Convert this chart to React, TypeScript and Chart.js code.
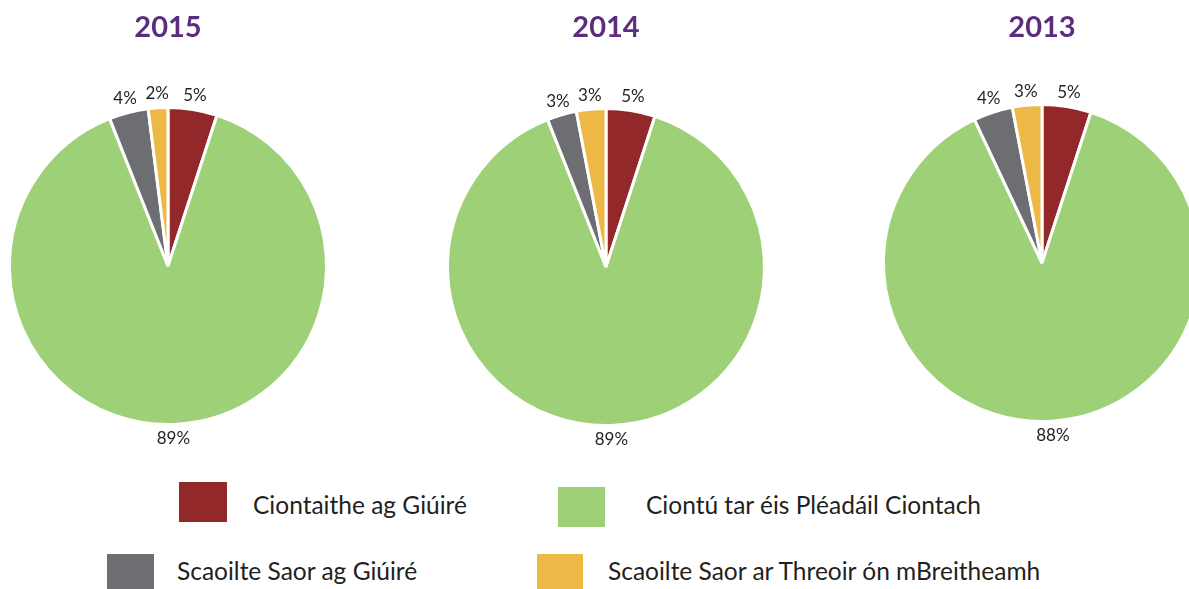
import React, { useEffect, useRef } from "react";
import { Chart, registerables } from "chart.js";

Chart.register(...registerables);

// ---- data ----
const categories = [
  "Ciontaithe ag Giúiré",
  "Ciontú tar éis Pléadáil Ciontach",
  "Scaoilte Saor ag Giúiré",
  "Scaoilte Saor ar Threoir ón mBreitheamh",
];
const years = ["2015", "2014", "2013"];
const values2015 = [5, 89, 4, 2];
const values2014 = [5, 89, 3, 3];
const values2013 = [5, 88, 4, 3];
const colors = ["#93282a", "#9dd077", "#6d6e71", "#ecb846"];

// ---- layout ----
const PURPLE = "#5c2d7f";
const TEXT = "#231f20";
const FONT = "Lato, 'Open Sans', sans-serif";
const W = 400;
const H = 470;
const R = 157;
const EXTRA = 3;
const pies = [
  { title: years[0], values: values2015, cx: 168, cy: 266 },
  { title: years[1], values: values2014, cx: 606, cy: 267 },
  { title: years[2], values: values2013, cx: 1042, cy: 263 },
];
const legendPos = [
  { box: [179, 482, 48, 40], text: [253, 513] },
  { box: [558, 487, 47, 40], text: [646, 513] },
  { box: [107, 554, 47, 40], text: [177, 579] },
  { box: [537, 554, 46, 40], text: [608, 579] },
];

const pctLabels = {
  id: "pctLabels",
  afterDatasetsDraw(chart: any) {
    const ctx = chart.ctx;
    const meta = chart.getDatasetMeta(0);
    const vals = chart.data.datasets[0].data;
    ctx.save();
    ctx.font = `17px ${FONT}`;
    ctx.fillStyle = TEXT;
    ctx.textAlign = "center";
    ctx.textBaseline = "middle";
    meta.data.forEach((arc: any, i: number) => {
      const p = arc.getProps(["x", "y", "startAngle", "endAngle", "outerRadius"], true);
      const a = (p.startAngle + p.endAngle) / 2;
      const d = p.outerRadius + 14;
      ctx.fillText(`${vals[i]}%`, p.x + Math.cos(a) * d, p.y + Math.sin(a) * d);
    });
    ctx.restore();
  },
};

function Pie({ title, values, cx, cy }: { title: string; values: number[]; cx: number; cy: number }) {
  const ref = useRef<HTMLCanvasElement | null>(null);
  useEffect(() => {
    if (!ref.current) return;
    const titleSize = 29;
    const padTop = 10;
    const chart = new Chart(ref.current, {
      type: "pie",
      data: {
        labels: categories,
        datasets: [
          {
            data: values,
            backgroundColor: colors,
            borderColor: "#ffffff",
            borderWidth: 3,
          },
        ],
      },
      options: {
        responsive: false,
        animation: false,
        layout: { padding: { top: 0, left: 0, right: 0, bottom: H - (cy + R + EXTRA) } },
        plugins: {
          legend: { display: false },
          tooltip: { enabled: false },
          title: {
            display: true,
            text: title,
            color: PURPLE,
            font: { family: FONT, size: titleSize, weight: "bold", lineHeight: 1.2 },
            padding: { top: padTop, bottom: cy - R - EXTRA - padTop - titleSize * 1.2 },
          },
        },
      },
      plugins: [pctLabels],
    } as any);
    return () => chart.destroy();
  }, [title, values, cx, cy]);
  return (
    <canvas
      ref={ref}
      width={W}
      height={H}
      style={{ position: "absolute", left: cx - W / 2, top: 0, width: W, height: H }}
    />
  );
}

export default function App() {
  return (
    <div
      style={{
        position: "absolute",
        left: 0,
        top: 0,
        width: 1189,
        height: 589,
        overflow: "hidden",
        background: "#ffffff",
        fontFamily: FONT,
      }}
    >
      {pies.map((p) => (
        <Pie key={p.title} {...p} />
      ))}
      {categories.map((c, i) => {
        const { box, text } = legendPos[i];
        return (
          <React.Fragment key={c}>
            <div
              style={{
                position: "absolute",
                left: box[0],
                top: box[1],
                width: box[2],
                height: box[3],
                background: colors[i],
              }}
            />
            <div
              style={{
                position: "absolute",
                left: text[0],
                top: text[1] - 20,
                fontSize: 24.5,
                lineHeight: "24px",
                color: TEXT,
                whiteSpace: "nowrap",
              }}
            >
              {c}
            </div>
          </React.Fragment>
        );
      })}
    </div>
  );
}
